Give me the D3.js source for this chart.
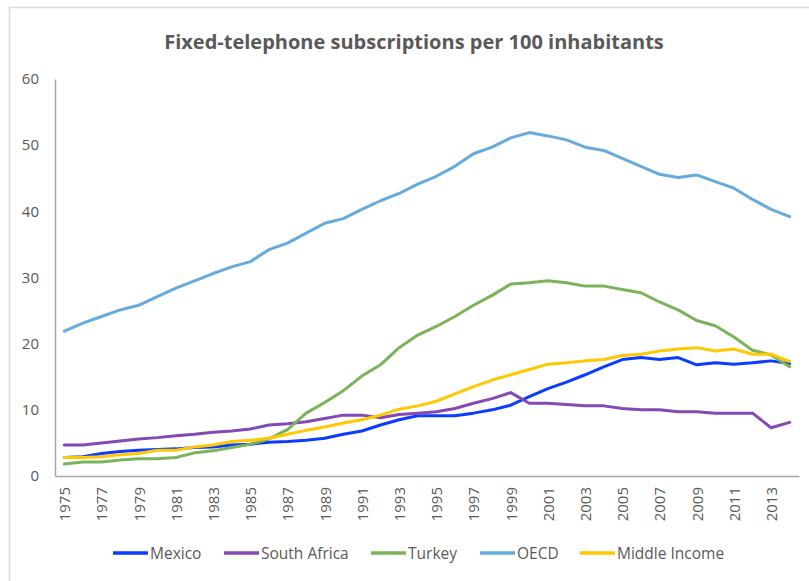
<!DOCTYPE html>
<html><head><meta charset="utf-8">
<script src="https://cdn.jsdelivr.net/npm/d3@7"></script>
<style>body{margin:0;background:#fff;font-family:"Open Sans",sans-serif;}</style>
</head><body><svg id="c" width="809" height="581"></svg>
<script>
const years = d3.range(1975, 2015);
const tickYears = d3.range(1975, 2014, 2);
const yTicks = [0,10,20,30,40,50,60];
const mexico = [2.8,2.9,3.4,3.7,3.9,4.0,4.1,4.3,4.4,4.7,4.8,5.1,5.2,5.4,5.7,6.3,6.8,7.7,8.5,9.1,9.1,9.1,9.5,10.0,10.7,12.0,13.2,14.2,15.3,16.5,17.6,17.9,17.6,17.9,16.8,17.1,16.9,17.1,17.4,17.0];
const southAfrica = [4.7,4.7,5.0,5.3,5.6,5.8,6.1,6.3,6.6,6.8,7.1,7.7,7.9,8.2,8.7,9.2,9.2,8.8,9.3,9.5,9.7,10.2,11.0,11.7,12.6,11.0,11.0,10.8,10.6,10.6,10.2,10.0,10.0,9.7,9.7,9.5,9.5,9.5,7.3,8.1];
const turkey = [1.8,2.1,2.1,2.4,2.6,2.6,2.8,3.5,3.8,4.3,4.8,5.6,7.0,9.5,11.1,12.9,15.1,16.8,19.4,21.3,22.6,24.1,25.8,27.3,29.0,29.2,29.5,29.2,28.7,28.7,28.2,27.7,26.3,25.1,23.5,22.7,21.0,19.0,18.3,16.5];
const oecd = [21.9,23.1,24.1,25.1,25.8,27.1,28.4,29.5,30.6,31.6,32.4,34.2,35.2,36.7,38.2,38.9,40.3,41.6,42.7,44.1,45.3,46.8,48.7,49.7,51.1,51.9,51.4,50.8,49.7,49.2,48.0,46.8,45.6,45.1,45.5,44.5,43.5,41.8,40.3,39.2];
const middleIncome = [2.8,2.8,2.9,3.2,3.4,3.9,3.9,4.4,4.7,5.2,5.4,5.7,6.3,6.9,7.4,8.0,8.5,9.2,10.1,10.6,11.3,12.4,13.5,14.5,15.3,16.1,16.9,17.1,17.4,17.6,18.2,18.4,18.9,19.2,19.4,18.9,19.2,18.4,18.4,17.3];
const seriesNames = ["Mexico","South Africa","Turkey","OECD","Middle Income"];
const seriesValues = [mexico, southAfrica, turkey, oecd, middleIncome];
const colors = ["#0a3cff","#8549b3","#7ab35a","#66abde","#ffc800"];

const svg = d3.select("#c");
const textColor = "#595959", axisColor = "#a6a6a6";
svg.append("rect").attr("x",9.5).attr("y",7.5).attr("width",830).attr("height",600)
  .attr("fill","none").attr("stroke","#d9d9d9").attr("stroke-width",1.5);

const L = 55, R = 799, T = 79, B = 476;
const x = d3.scalePoint().domain(years).range([L, R]).padding(0.5);
const y = d3.scaleLinear().domain([0,60]).range([B, T]);

svg.append("text").attr("x",414).attr("y",49).attr("text-anchor","middle")
  .attr("font-size",20).attr("font-weight","bold").attr("fill",textColor)
  .text("Fixed-telephone subscriptions per 100 inhabitants");

const ya = svg.append("g").attr("transform",`translate(${L},0)`)
  .call(d3.axisLeft(y).tickValues(yTicks).tickSize(0).tickPadding(16));
ya.select(".domain").attr("stroke",axisColor).attr("stroke-width",1.5);
ya.selectAll("text").attr("font-size",15).attr("fill",textColor).attr("font-family","Open Sans");

const xa = svg.append("g").attr("transform",`translate(0,${B})`)
  .call(d3.axisBottom(x).tickValues(tickYears).tickSize(0).tickFormat(d3.format("d")));
xa.select(".domain").attr("stroke",axisColor).attr("stroke-width",1.5);
xa.selectAll("text").attr("font-size",15).attr("fill",textColor).attr("font-family","Open Sans")
  .attr("text-anchor","end").attr("transform","rotate(-90)").attr("x",-11).attr("y",0).attr("dy","0.36em");

const line = d3.line().x((d,i)=>x(years[i])).y(d=>y(d));
seriesValues.forEach((vals,k)=>{
  svg.append("path").datum(vals).attr("d",line).attr("fill","none")
    .attr("stroke",colors[k]).attr("stroke-width",3).attr("stroke-linejoin","round").attr("stroke-linecap","round");
});

const legX = [113,224,371,480,580];
const lg = svg.append("g");
seriesNames.forEach((n,k)=>{
  lg.append("line").attr("x1",legX[k]).attr("x2",legX[k]+35).attr("y1",553).attr("y2",553)
    .attr("stroke",colors[k]).attr("stroke-width",3.5);
  lg.append("text").attr("x",legX[k]+37).attr("y",558.5).attr("font-size",15.5).attr("fill",textColor)
    .attr("font-family","Open Sans").text(n);
});
</script></body></html>
